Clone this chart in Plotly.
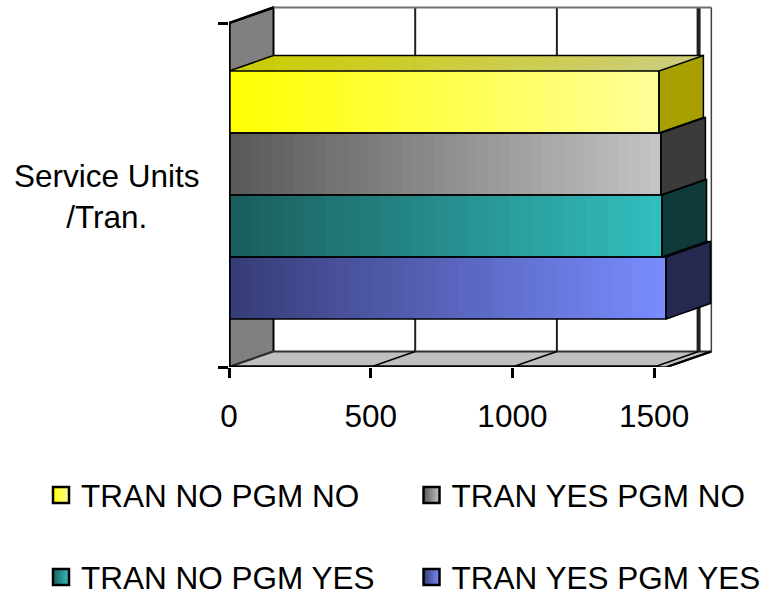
import plotly.graph_objects as go

# ---- data (top to bottom in the chart) ----
series = ["TRAN NO PGM NO", "TRAN YES PGM NO", "TRAN NO PGM YES", "TRAN YES PGM YES"]
values = [1517, 1524, 1528, 1542]
category_label = "Service Units<br>/Tran."
x_ticks = [0, 500, 1000, 1500]

# ---- colours ----
left_colors = ["#ffff00", "#585858", "#1a5c5c", "#363c76"]
right_colors = ["#ffff99", "#c4c4c4", "#33bfbf", "#7a8cff"]
side_colors = ["#a8a000", "#3b3b3b", "#0f3a3a", "#26294f"]

# ---- geometry of the pseudo-3D box (in axis units) ----
DX, DY = 157, 0.25          # depth offset
Y_BOT, Y_TOP = -0.774, 4.774
X_END = 1545
FONT = dict(family="Liberation Sans, Arial, sans-serif", size=31.5, color="black")
N = 40


def hex2rgb(h):
    return tuple(int(h[i:i + 2], 16) for i in (1, 3, 5))


def mix(a, b, t, k=1.0):
    ra, rb = hex2rgb(a), hex2rgb(b)
    return "rgb(%d,%d,%d)" % tuple(round((ra[i] + (rb[i] - ra[i]) * t) * k) for i in range(3))


def path(pts):
    return "M " + " L ".join(f"{x} {y}" for x, y in pts) + " Z"


fig = go.Figure()
shapes = []


def poly(pts, fill, lc="black", lw=1.5):
    shapes.append(dict(type="path", path=path(pts), xref="x", yref="y", layer="below",
                       fillcolor=fill, line=dict(color=lc, width=lw)))


def seg(x0, y0, x1, y1, lc="black", lw=1.5):
    shapes.append(dict(type="line", x0=x0, y0=y0, x1=x1, y1=y1, xref="x", yref="y",
                       layer="below", line=dict(color=lc, width=lw)))


# walls and floor
poly([(0, Y_BOT), (DX, Y_BOT + DY), (DX, Y_TOP + DY), (0, Y_TOP)], "#808080", lw=2)
poly([(0, Y_BOT), (X_END, Y_BOT), (X_END + DX, Y_BOT + DY), (DX, Y_BOT + DY)], "#c0c0c0", lc="#303030", lw=2)
for t in x_ticks[1:]:
    heavy = t == x_ticks[-1]
    seg(t + DX, Y_BOT + DY, t + DX, Y_TOP + DY, lc="#202020", lw=4 if heavy else 2)
    seg(t, Y_BOT, t + DX, Y_BOT + DY, lw=1.5)
seg(X_END + DX, Y_BOT + DY, X_END + DX, Y_TOP + DY, lc="#404040", lw=1.5)
seg(DX, Y_TOP + DY, X_END + DX, Y_TOP + DY, lc="#707070", lw=2)
seg(X_END + DX, Y_BOT + DY, X_END, Y_BOT, lc="black", lw=2)

# bars, drawn from the top one down
n = len(series)
for i, (name, v) in enumerate(zip(series, values)):
    lo = n - 1 - i
    hi = lo + 1
    # top face (gradient slices)
    for k in range(N):
        a, b = v * k / N, v * (k + 1) / N
        c = mix(left_colors[i], right_colors[i], (k + 0.5) / N, 0.8)
        poly([(a, hi), (b, hi), (b + DX, hi + DY), (a + DX, hi + DY)], c, lc=c, lw=0.6)
    seg(0, hi, DX, hi + DY)
    seg(DX, hi + DY, v + DX, hi + DY)
    # front face (gradient)
    fig.add_trace(go.Bar(
        orientation="h", name=name, showlegend=False,
        y=[lo + 0.5] * N, x=[v / N] * N, base=[v * k / N for k in range(N)], width=1,
        marker=dict(color=[mix(left_colors[i], right_colors[i], (k + 0.5) / N) for k in range(N)],
                    line=dict(width=0)),
    ))

for i, (name, v) in enumerate(zip(series, values)):
    lo = n - 1 - i
    hi = lo + 1
    # side face
    fig.add_trace(go.Scatter(
        x=[v, v + DX, v + DX, v, v], y=[lo, lo + DY, hi + DY, hi, lo],
        mode="lines", fill="toself", fillcolor=side_colors[i],
        line=dict(color="black", width=1.5), showlegend=False, hoverinfo="skip", cliponaxis=False))
    # front outline
    fig.add_trace(go.Scatter(
        x=[0, v, v, 0, 0], y=[lo, lo, hi, hi, lo], mode="lines",
        line=dict(color="black", width=1.5), showlegend=False, hoverinfo="skip", cliponaxis=False))

# axis lines
fig.add_trace(go.Scatter(x=[0, 0], y=[Y_BOT, Y_TOP], mode="lines", line=dict(color="black", width=3.5),
                         showlegend=False, hoverinfo="skip", cliponaxis=False))
fig.add_trace(go.Scatter(x=[0, x_ticks[-1] + 15], y=[Y_BOT, Y_BOT], mode="lines", line=dict(color="black", width=3.5),
                         showlegend=False, hoverinfo="skip", cliponaxis=False))
fig.add_trace(go.Scatter(x=[0, DX], y=[Y_TOP, Y_TOP + DY], mode="lines", line=dict(color="black", width=2.5),
                         showlegend=False, hoverinfo="skip", cliponaxis=False))

# legend entries
PL, PT, PW, PH = 229, 4, 488, 363
FIG_H = 612     # a little taller than the window so the lower legend row is not pushed
spots = [(41, 495), (411.5, 495), (41, 577), (411.5, 577)]
legends = {}
for i, name in enumerate(series):
    key = "legend" if i == 0 else f"legend{i + 1}"
    fig.add_trace(go.Scatter(
        x=[None], y=[None], mode="markers", name=name, legend=key,
        marker=dict(symbol="square", size=17, color=left_colors[i],
                    gradient=dict(type="horizontal", color=right_colors[i]),
                    line=dict(color="black", width=2.5))))
    sx, sy = spots[i]
    legends[key] = dict(x=(sx - PL) / PW, y=(PT + PH - sy) / PH, xanchor="left", yanchor="middle",
                        font=FONT, bgcolor="rgba(0,0,0,0)", borderwidth=0, itemclick=False)

fig.update_layout(
    width=775, height=FIG_H, autosize=False,
    margin=dict(l=PL, r=775 - PL - PW, t=PT, b=FIG_H - PT - PH),
    paper_bgcolor="white", plot_bgcolor="white",
    barmode="overlay", bargap=0,
    font=FONT, shapes=shapes,
    xaxis=dict(range=[0, PW / (141.7 / 500)], tickmode="array", tickvals=x_ticks,
               ticks="outside", ticklen=10, tickwidth=3, tickcolor="black",
               ticklabelstandoff=11, showgrid=False, zeroline=False, showline=False,
               tickfont=FONT),
    yaxis=dict(range=[Y_BOT, Y_BOT + PH / 62], tickmode="array", tickvals=[Y_BOT, Y_TOP],
               ticks="outside", ticklen=10, tickwidth=3, tickcolor="black",
               showticklabels=False, showgrid=False, zeroline=False, showline=False),
    annotations=[dict(text=category_label, xref="paper", yref="paper",
                      x=(107 - PL) / PW, y=(PT + PH - 196) / PH, xanchor="center", yanchor="middle",
                      showarrow=False, font=FONT, align="center")],
    **legends,
)
fig.write_html("out.html", config={"displayModeBar": False},
               post_script="document.body.style.margin='0';document.documentElement.style.overflow='hidden';document.body.style.overflow='hidden';")
